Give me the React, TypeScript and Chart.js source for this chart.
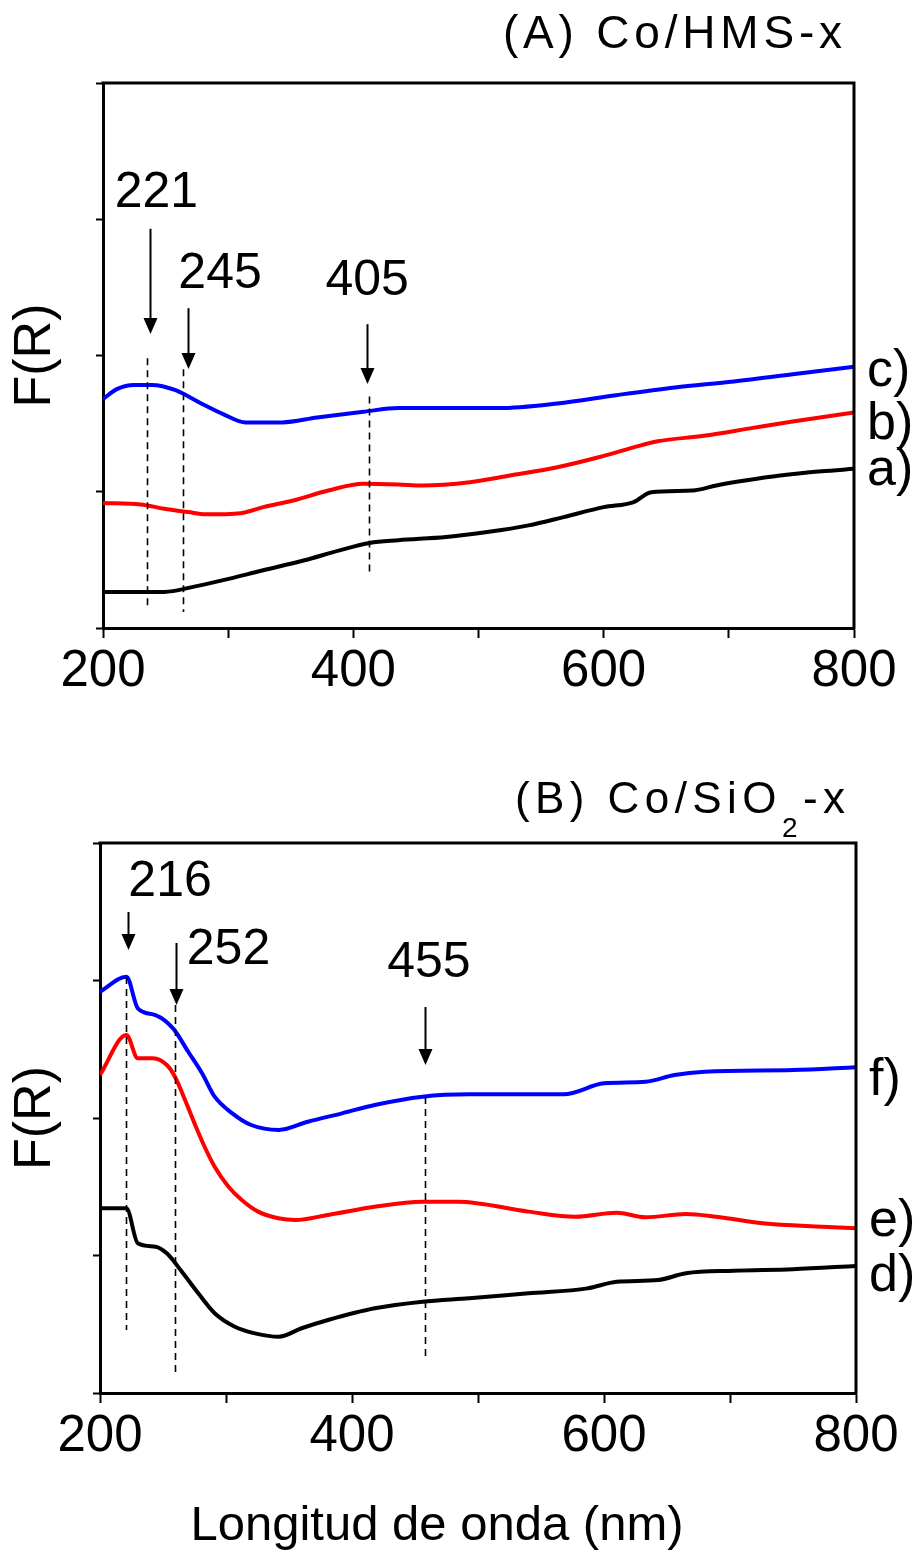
import React, { useEffect, useRef } from "react";
import { Chart, registerables } from "chart.js";
Chart.register(...registerables);

const FONT = "'Liberation Sans', Arial, Helvetica, sans-serif";

// ---------- shared axis ----------
const xTickValues = [200, 400, 600, 800];
const xTickLabels = ["200", "400", "600", "800"];

// ---------- Panel A : Co/HMS-x ----------
const wlA_a = [200, 249, 272, 296, 328, 361, 389, 413, 436, 474, 507, 540, 568, 600, 624, 638, 671, 690, 713, 741, 774, 800];
const fA_a = [0.265, 0.265, 0.302, 0.351, 0.424, 0.497, 0.57, 0.624, 0.644, 0.668, 0.704, 0.753, 0.814, 0.887, 0.924, 0.997, 1.009, 1.046, 1.082, 1.119, 1.15, 1.168];

const wlA_b = [200, 230, 249, 268, 282, 310, 328, 352, 380, 408, 436, 455, 493, 525, 563, 596, 624, 643, 680, 718, 751, 800];
const fA_b = [0.917, 0.907, 0.875, 0.851, 0.834, 0.843, 0.887, 0.936, 1.009, 1.058, 1.053, 1.046, 1.07, 1.119, 1.18, 1.253, 1.326, 1.37, 1.411, 1.467, 1.516, 1.582];

const wlA_c = [200, 211, 225, 239, 258, 277, 296, 314, 343, 371, 408, 436, 516, 563, 610, 657, 704, 751, 800];
const fA_c = [1.68, 1.753, 1.784, 1.784, 1.745, 1.655, 1.57, 1.509, 1.509, 1.545, 1.587, 1.614, 1.614, 1.648, 1.709, 1.765, 1.809, 1.862, 1.918];

const annA_text = ["221", "245", "405"];
const annA_labelX = [242.7, 293.5, 411];
const annA_labelY = [3.19, 2.6, 2.545];
const annA_arrowX = [237.5, 268, 411];
const annA_arrowFrom = [2.93, 2.347, 2.23];
const annA_arrowTo = [2.157, 1.901, 1.79];
const annA_dashX = [235, 264, 412.5];
const annA_dashFrom = [1.98, 1.9, 1.7];
const annA_dashTo = [0.146, 0.117, 0.41];

const curveLabelsA = ["c)", "b)", "a)"];
const curveLabelYA = [1.777, 1.389, 1.046];

// ---------- Panel B : Co/SiO2-x ----------
const wlB_d = [200, 221, 230, 244, 253, 265, 278, 291, 307, 323, 342, 360, 381, 418, 456, 493, 540, 587, 610, 643, 665, 703, 750, 800];
const fB_d = [1.343, 1.343, 1.089, 1.064, 1.016, 0.882, 0.725, 0.58, 0.482, 0.434, 0.409, 0.471, 0.531, 0.616, 0.664, 0.689, 0.725, 0.761, 0.809, 0.822, 0.871, 0.889, 0.9, 0.924];

const wlB_e = [200, 221, 230, 242, 253, 259.5, 267.5, 275, 283, 291, 302, 312.5, 325.5, 341.5, 355, 381, 418, 456, 484, 540, 577, 610, 633, 665, 689, 726, 773, 800];
const fB_e = [2.313, 2.604, 2.434, 2.434, 2.385, 2.3, 2.131, 1.961, 1.791, 1.646, 1.5, 1.404, 1.319, 1.271, 1.258, 1.295, 1.355, 1.391, 1.391, 1.319, 1.282, 1.311, 1.278, 1.302, 1.282, 1.234, 1.209, 1.198];

const wlB_f = [200, 221, 230, 244, 258, 270, 281, 291, 305, 320, 342, 365, 392, 418, 456, 493, 568, 600, 633, 656, 680, 750, 800];
const fB_f = [2.919, 3.028, 2.798, 2.749, 2.652, 2.482, 2.325, 2.155, 2.034, 1.949, 1.913, 1.973, 2.034, 2.095, 2.155, 2.172, 2.172, 2.252, 2.264, 2.313, 2.337, 2.349, 2.369];

const annB_text = ["216", "252", "455"];
const annB_labelX = [255.6, 302, 461];
const annB_labelY = [3.716, 3.222, 3.124];
const annB_arrowX = [222, 260.3, 458];
const annB_arrowFrom = [3.498, 3.273, 2.807];
const annB_arrowTo = [3.222, 2.822, 2.385];
const annB_dashX = [220.6, 259.5, 458];
const annB_dashFrom = [3.025, 2.822, 2.153];
const annB_dashTo = [0.458, 0.153, 0.262];

const curveLabelsB = ["f)", "e)", "d)"];
const curveLabelYB = [2.167, 1.142, 0.742];

// ---------- helpers ----------
function pts(xs: number[], ys: number[]) {
  return xs.map((x, i) => ({ x, y: ys[i] }));
}

type TitlePart = { text: string; size: number; dy: number };

type PanelSpec = {
  key: string;
  height: number;
  padTop: number;
  padRight: number;
  yWidth: number;
  xHeight: number;
  series: { x: number[]; y: number[]; color: string }[];
  titleParts: TitlePart[];
  titleRight: number;
  titleBaseline: number;
  titleWidth: number;
  ann: {
    text: string[]; labelX: number[]; labelY: number[];
    arrowX: number[]; arrowFrom: number[]; arrowTo: number[];
    dashX: number[]; dashFrom: number[]; dashTo: number[];
  };
  curveLabels: string[];
  curveLabelY: number[];
  xTitle?: { text: string; cx: number; baseline: number };
};

function decorPlugin(p: PanelSpec) {
  return {
    id: "decor_" + p.key,
    afterDraw(chart: any) {
      const { ctx, chartArea: ca, scales } = chart;
      const sx = scales.x;
      const sy = scales.y;
      ctx.save();

      // frame top + right
      ctx.strokeStyle = "#000";
      ctx.lineWidth = 3;
      ctx.beginPath();
      ctx.moveTo(ca.left - 1.5, ca.top);
      ctx.lineTo(ca.right, ca.top);
      ctx.lineTo(ca.right, ca.bottom + 1.5);
      ctx.stroke();

      // dashed guide lines
      ctx.lineWidth = 1.6;
      ctx.setLineDash([7, 5]);
      for (let i = 0; i < p.ann.dashX.length; i++) {
        const x = Math.round(sx.getPixelForValue(p.ann.dashX[i])) + 0.5;
        ctx.beginPath();
        ctx.moveTo(x, sy.getPixelForValue(p.ann.dashFrom[i]));
        ctx.lineTo(x, sy.getPixelForValue(p.ann.dashTo[i]));
        ctx.stroke();
      }
      ctx.setLineDash([]);

      // arrows
      ctx.fillStyle = "#000";
      for (let i = 0; i < p.ann.arrowX.length; i++) {
        const x = Math.round(sx.getPixelForValue(p.ann.arrowX[i])) + 0.5;
        const y1 = sy.getPixelForValue(p.ann.arrowFrom[i]);
        const y2 = sy.getPixelForValue(p.ann.arrowTo[i]);
        ctx.lineWidth = 2;
        ctx.beginPath();
        ctx.moveTo(x, y1);
        ctx.lineTo(x, y2 - 10);
        ctx.stroke();
        ctx.beginPath();
        ctx.moveTo(x - 7, y2 - 16);
        ctx.lineTo(x + 7, y2 - 16);
        ctx.lineTo(x, y2);
        ctx.closePath();
        ctx.fill();
      }

      // annotation labels
      ctx.font = `50px ${FONT}`;
      ctx.textAlign = "center";
      ctx.textBaseline = "middle";
      for (let i = 0; i < p.ann.text.length; i++) {
        ctx.fillText(p.ann.text[i], sx.getPixelForValue(p.ann.labelX[i]), sy.getPixelForValue(p.ann.labelY[i]));
      }

      // curve labels at the right
      ctx.font = `52px ${FONT}`;
      ctx.textAlign = "left";
      ctx.textBaseline = "alphabetic";
      for (let i = 0; i < p.curveLabels.length; i++) {
        ctx.fillText(p.curveLabels[i], ca.right + 13, sy.getPixelForValue(p.curveLabelY[i]));
      }

      // panel title with letter spacing
      let natural = 0;
      let nChars = 0;
      for (const part of p.titleParts) {
        ctx.font = `${part.size}px ${FONT}`;
        (ctx as any).letterSpacing = "0px";
        natural += ctx.measureText(part.text).width;
        nChars += part.text.length;
      }
      const spacing = Math.max(0, (p.titleWidth - natural) / Math.max(1, nChars - 1));
      let x = p.titleRight - p.titleWidth;
      ctx.textAlign = "left";
      ctx.textBaseline = "alphabetic";
      for (const part of p.titleParts) {
        ctx.font = `${part.size}px ${FONT}`;
        (ctx as any).letterSpacing = `${spacing}px`;
        ctx.fillText(part.text, x, p.titleBaseline + part.dy);
        x += ctx.measureText(part.text).width;
      }
      (ctx as any).letterSpacing = "0px";

      // x axis title
      if (p.xTitle) {
        ctx.font = `49px ${FONT}`;
        ctx.textAlign = "center";
        ctx.textBaseline = "alphabetic";
        ctx.fillText(p.xTitle.text, p.xTitle.cx, p.xTitle.baseline);
      }
      ctx.restore();
    },
  };
}

function buildConfig(p: PanelSpec): any {
  return {
    type: "line",
    data: {
      datasets: p.series.map((s) => ({
        data: pts(s.x, s.y),
        borderColor: s.color,
        backgroundColor: s.color,
        borderWidth: 4,
        borderJoinStyle: "round",
        pointRadius: 0,
        fill: false,
        cubicInterpolationMode: "monotone",
      })),
    },
    options: {
      responsive: false,
      animation: false,
      devicePixelRatio: 1,
      layout: { padding: { left: 0, right: p.padRight, top: p.padTop, bottom: 0 } },
      plugins: { legend: { display: false }, tooltip: { enabled: false } },
      scales: {
        x: {
          type: "linear",
          min: 200,
          max: 800,
          afterFit: (s: any) => {
            s.height = p.xHeight;
          },
          ticks: {
            stepSize: 100,
            autoSkip: false,
            maxRotation: 0,
            minRotation: 0,
            padding: 3,
            color: "#000",
            font: { family: FONT, size: 51 },
            callback: (v: number) => {
              const i = xTickValues.indexOf(v);
              return i >= 0 ? xTickLabels[i] : "";
            },
          },
          grid: { drawOnChartArea: false, drawTicks: true, tickLength: 10, tickWidth: 2, tickColor: "#000" },
          border: { display: true, color: "#000", width: 3 },
        },
        y: {
          type: "linear",
          min: 0,
          max: 4,
          afterFit: (s: any) => {
            s.width = p.yWidth;
          },
          ticks: { display: false, stepSize: 1 },
          grid: { drawOnChartArea: false, drawTicks: true, tickLength: 7, tickWidth: 2, tickColor: "#000" },
          border: { display: true, color: "#000", width: 3 },
          title: {
            display: true,
            text: "F(R)",
            color: "#000",
            font: { family: FONT, size: 52 },
            padding: { top: 4, bottom: 0 },
          },
        },
      },
    },
    plugins: [decorPlugin(p)],
  };
}

const panelA: PanelSpec = {
  key: "A",
  height: 720,
  padTop: 83,
  padRight: 61,
  yWidth: 103,
  xHeight: 92,
  series: [
    { x: wlA_a, y: fA_a, color: "#000000" },
    { x: wlA_b, y: fA_b, color: "#ff0000" },
    { x: wlA_c, y: fA_c, color: "#0000ff" },
  ],
  titleParts: [{ text: "(A) Co/HMS-x", size: 46, dy: 0 }],
  titleRight: 842,
  titleBaseline: 48,
  titleWidth: 339,
  ann: {
    text: annA_text, labelX: annA_labelX, labelY: annA_labelY,
    arrowX: annA_arrowX, arrowFrom: annA_arrowFrom, arrowTo: annA_arrowTo,
    dashX: annA_dashX, dashFrom: annA_dashFrom, dashTo: annA_dashTo,
  },
  curveLabels: curveLabelsA,
  curveLabelY: curveLabelYA,
};

const panelB: PanelSpec = {
  key: "B",
  height: 830,
  padTop: 123,
  padRight: 59,
  yWidth: 100,
  xHeight: 157,
  series: [
    { x: wlB_d, y: fB_d, color: "#000000" },
    { x: wlB_e, y: fB_e, color: "#ff0000" },
    { x: wlB_f, y: fB_f, color: "#0000ff" },
  ],
  titleParts: [
    { text: "(B) Co/SiO", size: 44, dy: 0 },
    { text: "2", size: 28, dy: 24 },
    { text: "-x", size: 44, dy: 0 },
  ],
  titleRight: 845,
  titleBaseline: 93,
  titleWidth: 330,
  ann: {
    text: annB_text, labelX: annB_labelX, labelY: annB_labelY,
    arrowX: annB_arrowX, arrowFrom: annB_arrowFrom, arrowTo: annB_arrowTo,
    dashX: annB_dashX, dashFrom: annB_dashFrom, dashTo: annB_dashTo,
  },
  curveLabels: curveLabelsB,
  curveLabelY: curveLabelYB,
  xTitle: { text: "Longitud de onda (nm)", cx: 437, baseline: 820 },
};

function Panel({ top, spec }: { top: number; spec: PanelSpec }) {
  const ref = useRef<HTMLCanvasElement>(null);
  useEffect(() => {
    const chart = new Chart(ref.current as HTMLCanvasElement, buildConfig(spec));
    return () => chart.destroy();
  }, [spec]);
  return (
    <canvas
      ref={ref}
      width={915}
      height={spec.height}
      style={{ position: "absolute", left: 0, top, width: 915, height: spec.height, display: "block" }}
    />
  );
}

export default function App() {
  return (
    <div style={{ position: "absolute", left: 0, top: 0, width: 915, height: 1550, background: "#ffffff", overflow: "hidden" }}>
      <Panel top={0} spec={panelA} />
      <Panel top={720} spec={panelB} />
    </div>
  );
}
